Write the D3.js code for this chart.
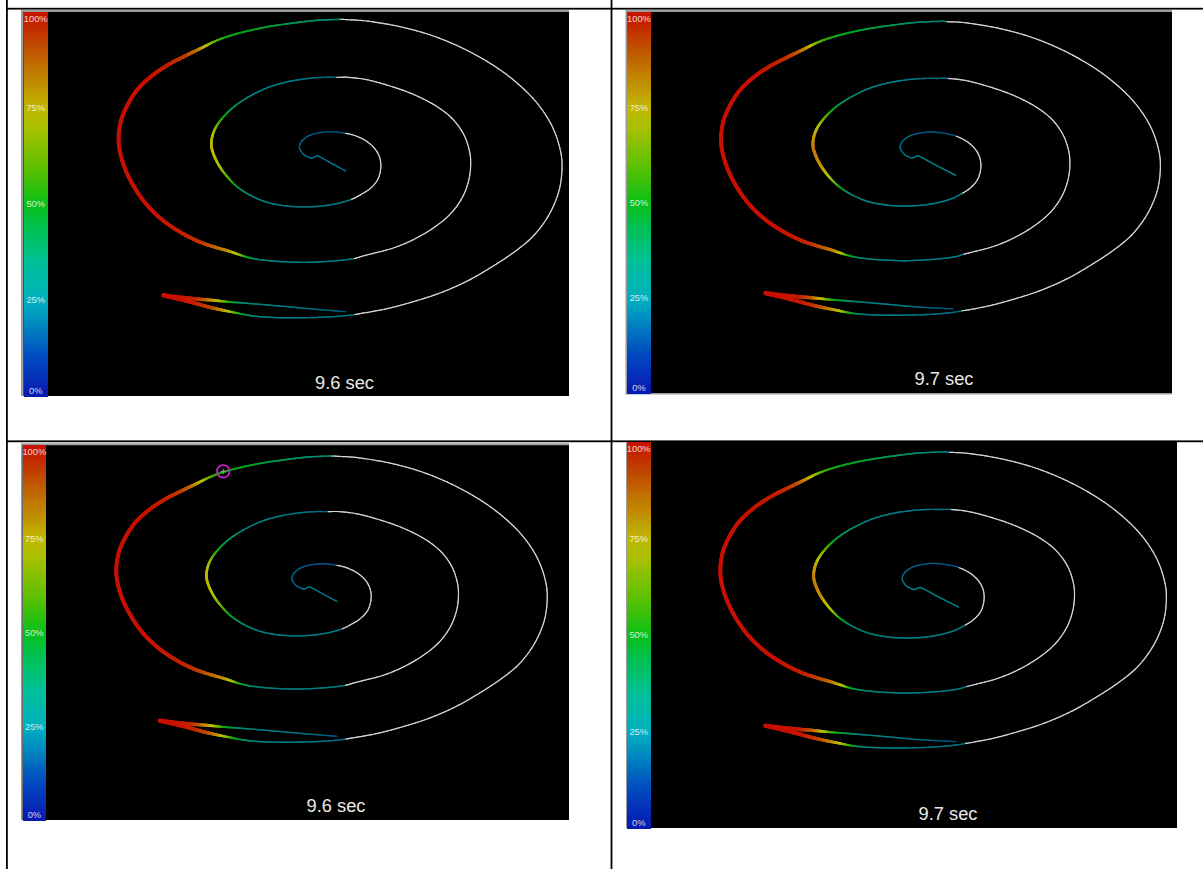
<!DOCTYPE html>
<html><head><meta charset="utf-8">
<script src="https://cdn.jsdelivr.net/npm/d3@7"></script>
<style>html,body{margin:0;padding:0;background:#fff;} svg{display:block;}</style>
</head><body>
<svg id="chart" width="1203" height="869"></svg>
<script>
// ---------------- DATA ----------------
// Wire path (shared geometry, arbitrary wire units), from the tail start outward to the loop
const wireX = [700,662,650,634,612,599,602,620,645,690,
  737,768,800,826,840,842,832,810,784,752,
  700,640,570,505,455,415,385,358,340,334,
  341,360,395,440,500,560,620,670,710,744,
  800,870,940,1005,1055,1090,1108,1112,1105,1085,
  1050,1000,940,880,820,789,760,700,620,545,
  480,440,415,385,340,295,240,185,135,95,
  68,56,62,82,112,155,205,255,290,318,
  340,375,430,500,580,650,722,740,800,900,
  1000,1095,1180,1250,1310,1355,1380,1386,1376,1346,
  1300,1240,1170,1100,1020,940,870,815,784,762,
  700,620,540,480,440,410,370,330,290,240,
  190,240,290,330,360,390,430,480,560,650];
const wireY = [457,436,432,438,428,410,392,375,365,359,
  364,372,388,412,440,472,505,530,547,563,
  577,584,583,572,552,527,498,462,425,395,
  360,327,290,258,228,210,200,196,196,196,
  203,222,247,280,318,365,415,460,510,560,
  607,648,683,708,724,732,740,747,751,749,
  743,735,727,717,704,688,660,622,572,512,
  450,390,330,280,233,192,158,132,115,101,
  90,76,60,45,33,25,22,23,27,44,
  72,112,160,212,272,340,410,470,540,610,
  672,722,768,808,843,869,888,899,904,908,
  914,917,917,914,909,903,895,886,875,862,
  850,856,861,864,867,870,873,877,884,892];
// Per-time tail start / loop end points
const timeLabels = ["9.6 sec", "9.7 sec"];
const startX = [737, 766], startY = [477, 491];
const endX = [737, 759], endY = [899, 898];
// Values (%) : [start, wire points..., end]; null = not reached (white)
const N = null;
const value96 = [22,
  22,22,22,22,21,20,20,19,18,17,
  17,N,N,N,N,N,N,N,N,24,
  26,27,27,28,32,42,58,70,74,76,
  70,57,42,32,28,26,24,22,21,N,
  N,N,N,N,N,N,N,N,N,N,
  N,N,N,N,N,N,24,26,26,27,
  32,48,66,80,88,95,98,99,100,100,
  100,100,100,100,100,100,98,94,86,74,
  62,53,50,46,40,36,32,N,N,N,
  N,N,N,N,N,N,N,N,N,N,
  N,N,N,N,N,N,N,N,N,22,
  24,25,26,30,40,55,78,92,97,100,
  100,100,97,84,70,52,36,28,25,22,
  17];
const value97 = [25,
  25,24,24,24,23,22,21,20,19,18,
  17,16,N,N,N,N,N,N,24,26,
  27,27,28,29,30,50,68,80,84,84,
  78,66,50,36,30,27,25,24,23,21,
  N,N,N,N,N,N,N,N,N,N,
  N,N,N,N,N,24,25,26,27,28,
  32,50,72,85,93,98,100,100,100,100,
  100,100,100,100,100,100,99,96,90,80,
  66,55,50,46,40,34,30,28,N,N,
  N,N,N,N,N,N,N,N,N,N,
  N,N,N,N,N,N,N,N,20,22,
  23,25,27,30,55,72,86,95,99,100,
  100,100,99,90,74,56,42,30,26,22,
  15];
const percentTicks = [0, 25, 50, 75, 100];
const markerPoint = [386, 70];

// ---------------- STYLE / LAYOUT ----------------
const colorStops = [0,10,20,25,35,45,50,60,70,75,85,92,100];
const stopColors = ["#0818b0","#0048c0","#0090c0","#00b0c0","#00c098","#00c048","#08c018",
                    "#60c000","#a8c000","#c0b800","#c07800","#c04800","#c81000"];
const color = d3.scaleLinear().domain(colorStops).range(stopColors)
  .interpolate(d3.interpolateRgb).clamp(true);
const lineWidth = v => 1.25 + 2.6 * Math.pow(v / 100, 2);
const lineColor = v => {
  const k = Math.max(0, Math.min(1, (v - 30) / 40));
  return d3.interpolateRgb(color(v), "#000")(0.3 * (1 - k));
};

const panels = [
  {fx:21, fy:10, fr:569, fb:396, bt:2, bl:2.5, bb:0, cbW:24.5, time:0,
   xr:[100,570], yr:[12,330], lx:344.5, ly:389, marker:false},
  {fx:625.5, fy:10, fr:1172, fb:394.5, bt:2, bl:1.5, bb:1.5, cbW:24, time:1,
   xr:[702.6,1168.3], yr:[14.1,327.3], lx:944, ly:385, marker:false},
  {fx:21, fy:443.3, fr:569, fb:820, bt:2, bl:1.7, bb:0, cbW:23.3, time:0,
   xr:[98.2,555.0], yr:[449,753.9], lx:336, ly:812, marker:true},
  {fx:626, fy:442, fr:1177, fb:828, bt:0, bl:1, bb:0, cbW:23.5, time:1,
   xr:[701.6,1174.4], yr:[444.7,760.1], lx:948, ly:820, marker:false}
];

const svg = d3.select("#chart");
svg.append("rect").attr("width",1203).attr("height",869).attr("fill","#fff");

// table lines
const tbl = svg.append("g").attr("fill","#000");
tbl.append("rect").attr("x",6).attr("y",7.8).attr("width",1197).attr("height",1.8);
tbl.append("rect").attr("x",6).attr("y",440.4).attr("width",1197).attr("height",1.8);
tbl.append("rect").attr("x",6).attr("y",0).attr("width",1.8).attr("height",869);
tbl.append("rect").attr("x",610.6).attr("y",0).attr("width",1.8).attr("height",869);

panels.forEach((p, pi) => {
  const g = svg.append("g");
  const bx = p.fx + p.bl, by = p.fy + p.bt, bw = p.fr - bx, bh = p.fb - p.bb - by;
  g.append("rect").attr("x",p.fx).attr("y",p.fy).attr("width",p.fr-p.fx).attr("height",p.fb-p.fy)
    .attr("fill","#9a9a9a");
  g.append("rect").attr("x",bx).attr("y",by).attr("width",bw).attr("height",bh).attr("fill","#000");

  const clipId = "clip" + pi;
  svg.append("clipPath").attr("id",clipId).append("rect")
    .attr("x",bx + p.cbW).attr("y",by).attr("width",bw - p.cbW).attr("height",bh);

  // colorbar
  const cb = d3.scaleLinear().domain([0,100]).range([by + bh, by]);
  const nb = Math.round(bh / 4);
  g.append("g").selectAll("rect").data(d3.range(nb)).join("rect")
    .attr("x", bx).attr("width", p.cbW)
    .attr("y", k => cb((k + 1) / nb * 100))
    .attr("height", k => cb(k / nb * 100) - cb((k + 1) / nb * 100) + 0.5)
    .attr("fill", k => color((k + 0.5) / nb * 100))
    .attr("shape-rendering","crispEdges");
  g.append("g").selectAll("text").data(percentTicks).join("text")
    .attr("x", bx + p.cbW / 2)
    .attr("y", t => t === 100 ? by + 9.5 : t === 0 ? by + bh - 2 : cb(t) + 3.3)
    .attr("text-anchor","middle")
    .attr("font-family","'Liberation Sans', Arial, sans-serif")
    .attr("font-size", 9.3)
    .attr("fill","#fff").attr("fill-opacity",0.8)
    .text(t => t + "%");

  // spiral
  const xs = d3.scaleLinear().domain([0,1410]).range(p.xr);
  const ys = d3.scaleLinear().domain([0,954]).range(p.yr);
  const ti = p.time;
  const X = [startX[ti], ...wireX, endX[ti]];
  const Y = [startY[ti], ...wireY, endY[ti]];
  const V = ti === 0 ? value96 : value97;
  const P = X.map((x, i) => [xs(x), ys(Y[i])]);
  const n = P.length;
  const segs = [];
  for (let i = 0; i < n - 1; i++) {
    const p0 = P[Math.max(i - 1, 0)], p1 = P[i], p2 = P[i + 1], p3 = P[Math.min(i + 2, n - 1)];
    const c1 = [p1[0] + (p2[0] - p0[0]) / 6, p1[1] + (p2[1] - p0[1]) / 6];
    const c2 = [p2[0] - (p3[0] - p1[0]) / 6, p2[1] - (p3[1] - p1[1]) / 6];
    const bez = t => {
      const u = 1 - t;
      return [u*u*u*p1[0] + 3*u*u*t*c1[0] + 3*u*t*t*c2[0] + t*t*t*p2[0],
              u*u*u*p1[1] + 3*u*u*t*c1[1] + 3*u*t*t*c2[1] + t*t*t*p2[1]];
    };
    const len = Math.hypot(p2[0] - p1[0], p2[1] - p1[1]);
    const steps = Math.max(2, Math.ceil(len / 1.6));
    const colored = V[i] !== null && V[i + 1] !== null;
    let prev = p1;
    for (let s = 1; s <= steps; s++) {
      const t = s / steps;
      const cur = bez(t);
      const tm = (s - 0.5) / steps;
      const v = colored ? V[i] + (V[i + 1] - V[i]) * tm : null;
      segs.push({a: prev, b: cur, v});
      prev = cur;
    }
  }
  const sg = g.append("g").attr("clip-path", `url(#${clipId})`);
  sg.selectAll("line").data(segs).join("line")
    .attr("x1", d => d.a[0]).attr("y1", d => d.a[1])
    .attr("x2", d => d.b[0]).attr("y2", d => d.b[1])
    .attr("stroke", d => d.v === null ? "#d4d4d4" : lineColor(d.v))
    .attr("stroke-width", d => d.v === null ? 1.2 : lineWidth(d.v))
    .attr("stroke-linecap","round");

  // time label
  g.append("text").attr("x", p.lx).attr("y", p.ly).attr("text-anchor","middle")
    .attr("font-family","'Liberation Sans', Arial, sans-serif").attr("font-size",18.3)
    .attr("fill","#e8e8e8").text(timeLabels[ti]);

  if (p.marker) {
    const mx = xs(markerPoint[0]), my = ys(markerPoint[1]);
    g.append("circle").attr("cx",mx).attr("cy",my).attr("r",6.3)
      .attr("fill","none").attr("stroke","#d820d8").attr("stroke-width",1.6);
    g.append("path").attr("d",`M${mx-2.5},${my}H${mx+2.5}M${mx},${my-2.5}V${my+2.5}`)
      .attr("stroke","#c890c8").attr("stroke-width",0.9);
  }
});
</script>
</body></html>
